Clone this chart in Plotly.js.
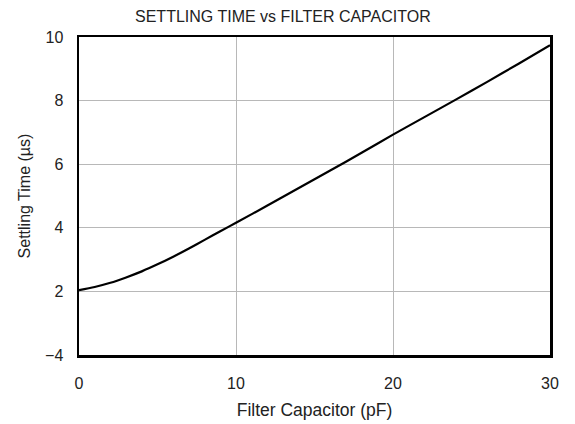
<!DOCTYPE html>
<html>
<head>
<meta charset="utf-8">
<script src="https://cdn.plot.ly/plotly-3.0.1.min.js"></script>
<style>html,body{margin:0;padding:0;background:#fff;}#chart{width:575px;height:424px;}</style>
</head>
<body>
<div id="chart"></div>
<script>
const capacitance = [0, 1, 2, 3, 4, 5, 6, 7, 8, 9, 10, 12, 14, 16, 18, 20, 22, 24, 26, 28, 30];
const settlingTime = [2.04, 2.14, 2.27, 2.44, 2.63, 2.85, 3.09, 3.35, 3.62, 3.89, 4.16, 4.7, 5.25, 5.8, 6.36, 6.93, 7.48, 8.03, 8.59, 9.16, 9.74];
const yTickVals = [0, 2, 4, 6, 8, 10];
const yTickText = ['\u22124', '2', '4', '6', '8', '10'];
const xTickVals = [0, 10, 20, 30];

const fam = 'Liberation Sans, Arial, sans-serif';
const tickFont = {family: fam, size: 16, color: '#222'};
Plotly.newPlot('chart', [{
  x: capacitance, y: settlingTime, type: 'scatter', mode: 'lines',
  line: {color: '#000', width: 2.2, shape: 'spline', smoothing: 0.8}, hoverinfo: 'skip'
}], {
  width: 575, height: 424,
  margin: {l: 79, r: 25, t: 37, b: 69},
  paper_bgcolor: '#fff', plot_bgcolor: '#fff',
  font: tickFont,
  showlegend: false,
  title: {text: 'SETTLING TIME vs FILTER CAPACITOR', font: {family: fam, size: 16, color: '#222'}, x: 0.492, xanchor: 'center', y: 0.962, yanchor: 'middle'},
  xaxis: {
    range: [0, 30], tickvals: xTickVals, ticks: '', showline: true, mirror: true,
    linecolor: '#000', linewidth: 2.5, showgrid: true, gridcolor: '#b8b8b8', gridwidth: 1,
    zeroline: false, ticklabelstandoff: 12, tickfont: tickFont,
    title: {text: 'Filter Capacitor (pF)', font: {family: fam, size: 17.5, color: '#222'}, standoff: 13}
  },
  yaxis: {
    range: [0, 10], tickvals: yTickVals, ticktext: yTickText, ticks: '', showline: true, mirror: true,
    linecolor: '#000', linewidth: 2.5, showgrid: true, gridcolor: '#b8b8b8', gridwidth: 1,
    zeroline: false, ticklabelstandoff: 10, tickfont: tickFont,
    title: {text: 'Settling Time (\u00b5s)', font: {family: fam, size: 16, color: '#222'}, standoff: 11}
  }
}, {staticPlot: true});
</script>
</body>
</html>
